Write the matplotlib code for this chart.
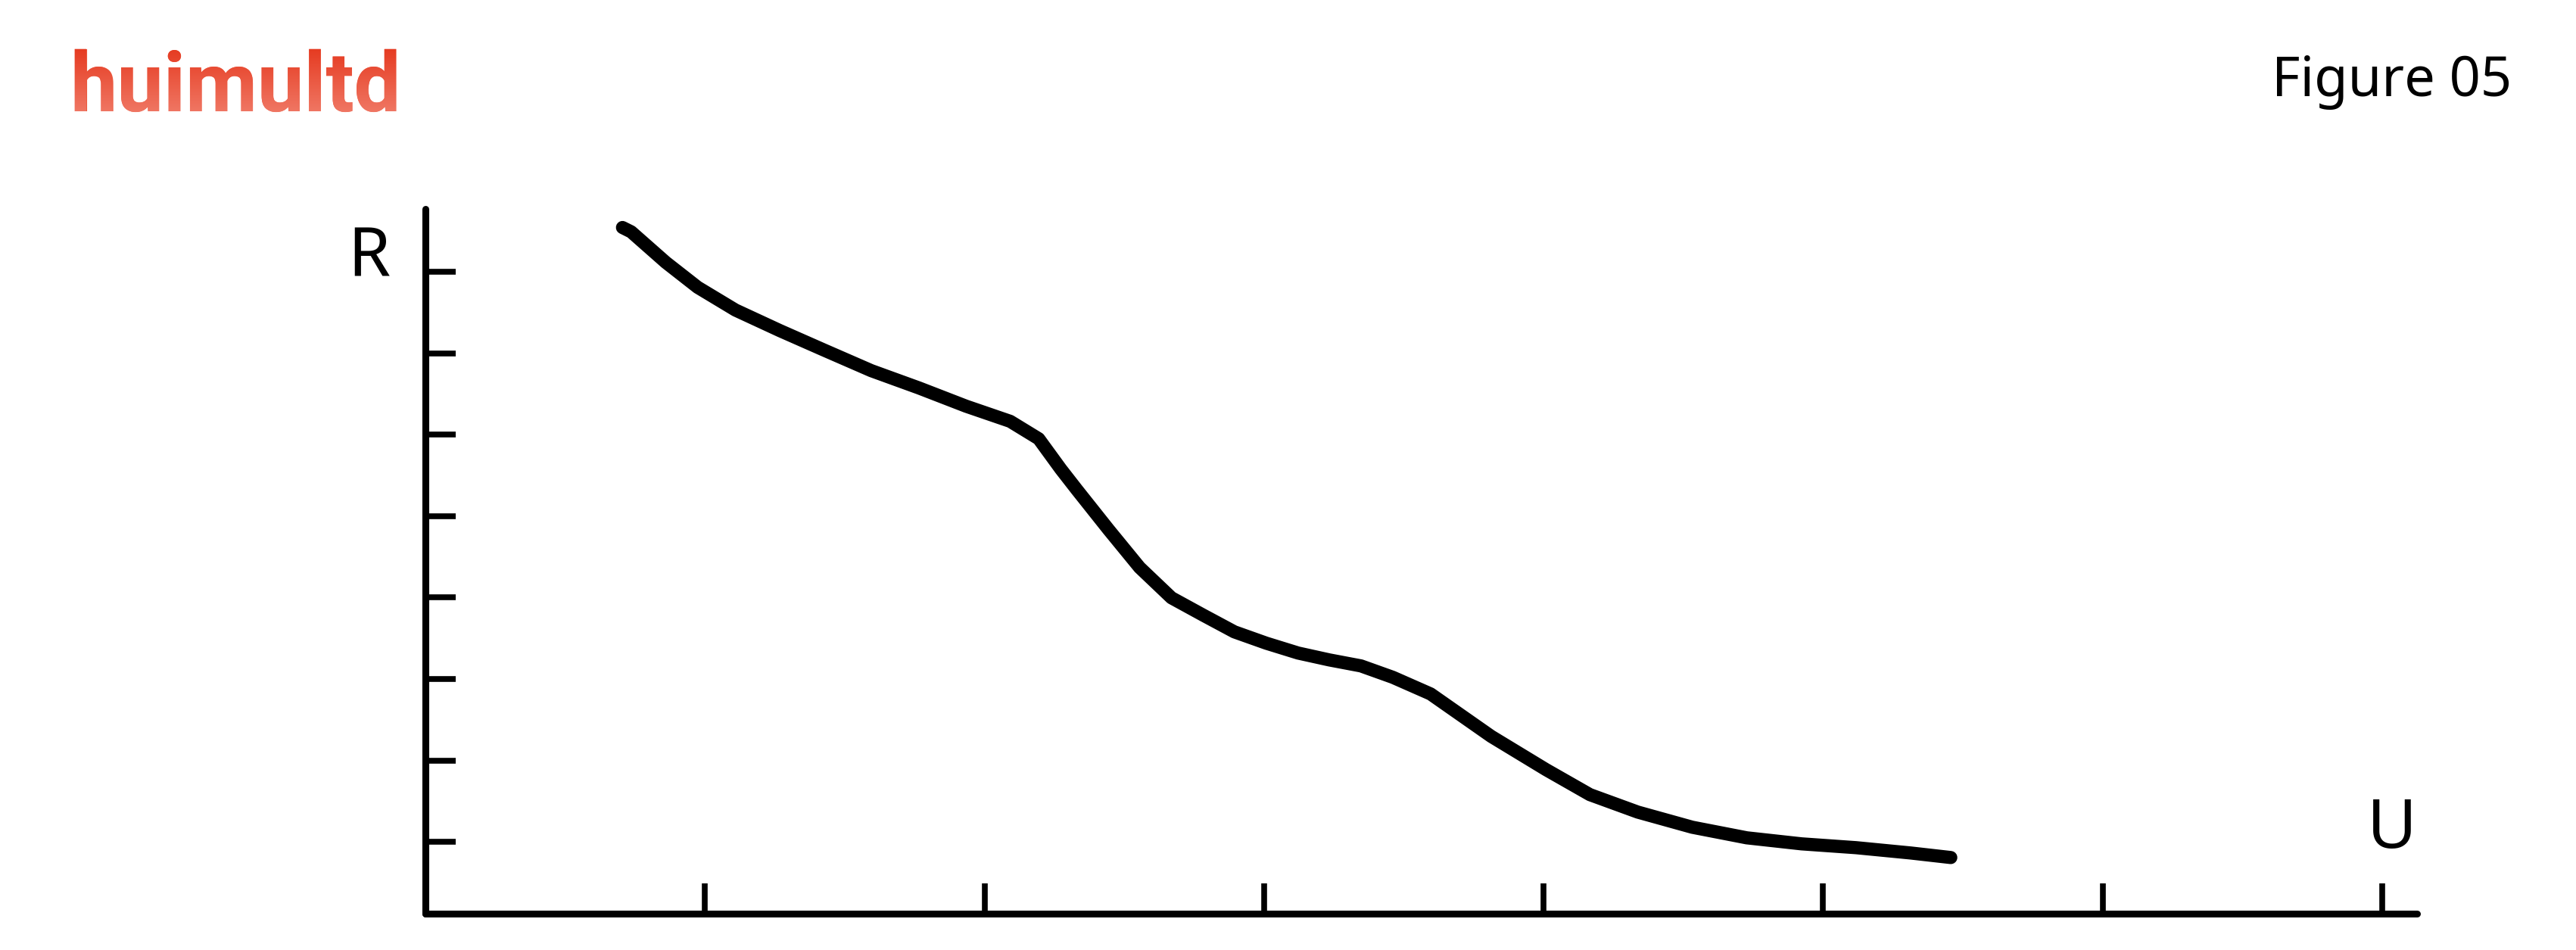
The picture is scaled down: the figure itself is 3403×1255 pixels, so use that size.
import numpy as np
import matplotlib.pyplot as plt
from matplotlib.textpath import TextPath
from matplotlib.patches import PathPatch
from matplotlib.font_manager import FontProperties
from matplotlib.colors import LinearSegmentedColormap

# curve (U along x, R along y)
u = [0.705, 0.736, 0.860, 0.974, 1.109, 1.267, 1.427, 1.595, 1.766, 1.934,
     2.092, 2.194, 2.273, 2.330, 2.444, 2.555, 2.669, 2.783, 2.894, 3.008,
     3.122, 3.233, 3.347, 3.461, 3.596, 3.813, 4.009, 4.166, 4.337, 4.532,
     4.727, 4.923, 5.118, 5.313, 5.457]
r = [8.542, 8.489, 8.114, 7.808, 7.529, 7.278, 7.036, 6.785, 6.572, 6.349,
     6.163, 5.949, 5.577, 5.326, 4.834, 4.369, 3.997, 3.783, 3.579, 3.440,
     3.319, 3.235, 3.161, 3.021, 2.817, 2.296, 1.888, 1.581, 1.367, 1.181,
     1.051, 0.977, 0.930, 0.865, 0.809]

x_ticks = [1, 2, 3, 4, 5, 6, 7]
y_ticks = [1, 2, 3, 4, 5, 6, 7, 8]

W, H = 3403, 1255
fig = plt.figure(figsize=(W / 100, H / 100), dpi=100)
ax = fig.add_axes([562 / W, 1 - 1207 / H, (3193 - 562) / W, (1207 - 276) / H])

ax.plot(u, r, color='black', lw=12.5, solid_capstyle='round', solid_joinstyle='round')

ax.set_xlim(0, 7.125)
ax.set_ylim(0.12, 8.77)
for side in ['top', 'right']:
    ax.spines[side].set_visible(False)
for side in ['left', 'bottom']:
    ax.spines[side].set_linewidth(6.5)
    ax.spines[side].set_capstyle('round')
ax.set_xticks(x_ticks)
ax.set_yticks(y_ticks)
ax.set_xticklabels([])
ax.set_yticklabels([])
ax.tick_params(direction='in', length=29, width=5.5)

font = 'Noto Sans'
ax.text(-0.125, 7.947, 'R', ha='right', va='baseline', fontsize=65, family=font)
ax.text(7.035, 0.930, 'U', ha='center', va='baseline', fontsize=65, family=font)

fig.text(3318 / W, 1 - 127 / H, 'Figure 05', ha='right', va='baseline',
         fontsize=52, family=font)

# logo: real text, with a red gradient laid over its outline
top = fig.add_axes([0, 0, 1, 1], zorder=5)
top.patch.set_visible(False)
top.axis('off')
logo_size = 79
top.text(93, H - 147, 'huimultd', ha='left', va='baseline', fontsize=logo_size,
         family='Roboto', weight='bold', color='#EC573C', zorder=1)
tp = TextPath((93, H - 147), 'huimultd', size=logo_size * 100 / 72,
              prop=FontProperties(family='Roboto', weight='bold'))
clip = PathPatch(tp, fc='none', ec='none', transform=top.transData)
top.add_patch(clip)
cmap = LinearSegmentedColormap.from_list('logo', ['#F07865', '#E5381E'])
top.imshow(np.linspace(0, 1, 256).reshape(-1, 1), cmap=cmap, origin='lower',
           extent=[80, 560, H - 150, H - 60], aspect='auto', clip_path=clip, zorder=2)
top.set_xlim(0, W)
top.set_ylim(0, H)

fig.savefig('out.png', dpi=100)
